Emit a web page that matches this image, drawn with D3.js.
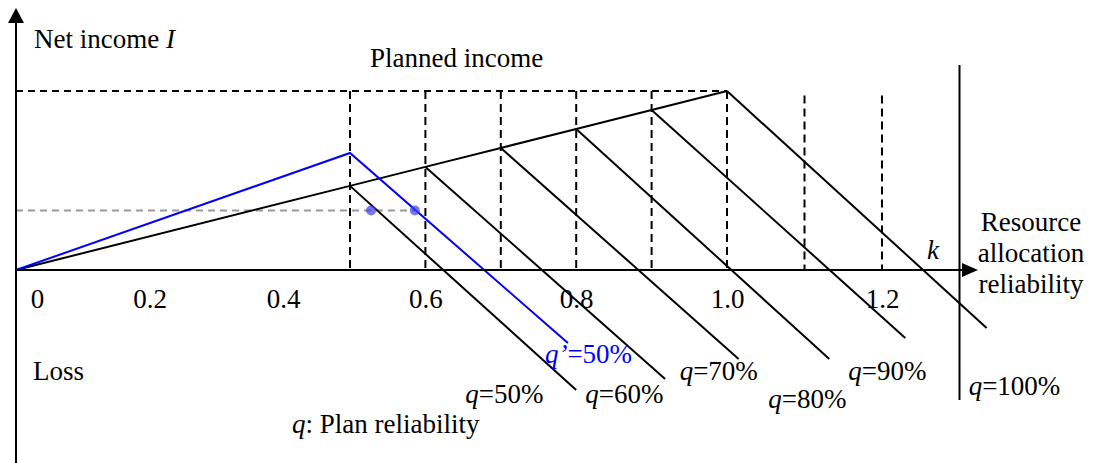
<!DOCTYPE html>
<html>
<head>
<meta charset="utf-8">
<script src="https://cdn.jsdelivr.net/npm/d3@7"></script>
<style>
  html, body { margin: 0; padding: 0; background: #fff; }
  svg { display: block; }
  text { font-family: "Liberation Serif", "Times New Roman", serif; font-size: 27px; fill: #000; }
</style>
</head>
<body>
<svg width="1097" height="463"></svg>
<script>
// k = resource allocation reliability, I = net income (planned income = 1)
const tickValues = [0, 0.2, 0.4, 0.6, 0.8, 1.0, 1.2];
const tickLabels = ["0", "0.2", "0.4", "0.6", "0.8", "1.0", "1.2"];

const guideK = [0.5, 0.6, 0.7, 0.8, 0.9, 1.0, 1.1, 1.2];
const guideTopI = [1, 1, 1, 1, 1, 1, 0.975, 0.975];

// rising income line
const incomeK = [0, 0.5, 0.6, 0.7, 0.8, 0.9, 1.0];
const incomeI = [0, 0.47, 0.576, 0.682, 0.788, 0.894, 1.0];

// falling lines, one per plan reliability q
const qNames = ["50%", "60%", "70%", "80%", "90%", "100%"];
const qStartK = [0.5, 0.6, 0.7, 0.8, 0.9, 1.0];
const qStartI = [0.47, 0.576, 0.682, 0.788, 0.894, 1.0];
const qEndK = [0.80, 0.918, 1.015, 1.132, 1.230, 1.335];
const qEndI = [-0.670, -0.609, -0.497, -0.497, -0.380, -0.324];

// blue q' = 50% line
const blueK = [0, 0.5, 0.789];
const blueI = [0, 0.654, -0.408];

// grey reference level and its two points
const refI = 0.333;
const refDotK = [0.528, 0.586];

const plannedI = 1.0;
const wallK = 1.30, wallTopI = 1.145, wallBottomI = -0.726;

const svg = d3.select("svg");

const x = d3.scaleLinear().domain([0, 0.5, 1.0, 1.2]).range([16, 350, 727, 882]);
const y = d3.scaleLinear().domain([0, 1]).range([270, 91]);

// label offsets (px) from each line's end point
const qLabelDx = [-111, -80, -59, -61, -57, -18];
const qLabelDy = [13, 24, 21, 49, 42, 67];

const line = d3.line().x(d => x(d[0])).y(d => y(d[1]));

// planned income dashed level
svg.append("path")
   .datum([[0, plannedI], [1.0, plannedI]])
   .attr("d", line)
   .attr("fill", "none")
   .attr("stroke", "#000")
   .attr("stroke-width", 2)
   .attr("stroke-dasharray", "7,5");

// vertical dashed guides
svg.selectAll(".guide")
   .data(guideK)
   .enter()
   .append("line")
   .attr("class", "guide")
   .attr("x1", d => x(d))
   .attr("x2", d => x(d))
   .attr("y1", (d, i) => y(guideTopI[i]))
   .attr("y2", y(0))
   .attr("stroke", "#000")
   .attr("stroke-width", 2)
   .attr("stroke-dasharray", "8,5");

// grey reference line
svg.append("path")
   .datum([[0, refI], [refDotK[1], refI]])
   .attr("d", line)
   .attr("fill", "none")
   .attr("stroke", "#999")
   .attr("stroke-width", 2)
   .attr("stroke-dasharray", "7,5");

// rising income line
svg.append("path")
   .datum(incomeK.map((k, i) => [k, incomeI[i]]))
   .attr("d", line)
   .attr("fill", "none")
   .attr("stroke", "#000")
   .attr("stroke-width", 2);

// falling q lines
qNames.forEach((name, i) => {
  svg.append("path")
     .datum([[qStartK[i], qStartI[i]], [qEndK[i], qEndI[i]]])
     .attr("d", line)
     .attr("fill", "none")
     .attr("stroke", "#000")
     .attr("stroke-width", 2);

  const t = svg.append("text")
     .attr("x", x(qEndK[i]) + qLabelDx[i])
     .attr("y", y(qEndI[i]) + qLabelDy[i]);
  t.append("tspan").style("font-style", "italic").text("q");
  t.append("tspan").text("=" + name);
});

// blue line
svg.append("path")
   .datum(blueK.map((k, i) => [k, blueI[i]]))
   .attr("d", line)
   .attr("fill", "none")
   .attr("stroke", "#0000ff")
   .attr("stroke-width", 2);

const bt = svg.append("text")
   .attr("x", x(blueK[2]) - 23)
   .attr("y", y(blueI[2]) + 20)
   .style("fill", "#0000ff");
bt.append("tspan").style("font-style", "italic").style("fill", "#0000ff").text("q’");
bt.append("tspan").style("fill", "#0000ff").text("=50%");

// dots
svg.selectAll(".dot")
   .data(refDotK)
   .enter()
   .append("circle")
   .attr("class", "dot")
   .attr("cx", d => x(d))
   .attr("cy", y(refI))
   .attr("r", 5)
   .attr("fill", "#3c3cec")
   .attr("fill-opacity", 0.7);

// right-hand vertical line
svg.append("line")
   .attr("x1", x(wallK)).attr("x2", x(wallK))
   .attr("y1", y(wallTopI)).attr("y2", y(wallBottomI))
   .attr("stroke", "#000")
   .attr("stroke-width", 2);

// axes
const x0 = x(0), y0 = y(0);
const xTip = 978, yTip = 8;

svg.append("line")
   .attr("x1", x0).attr("x2", xTip - 12)
   .attr("y1", y0).attr("y2", y0)
   .attr("stroke", "#000").attr("stroke-width", 2);
svg.append("path")
   .attr("d", `M${xTip},${y0} L${xTip - 16},${y0 - 7} L${xTip - 16},${y0 + 7} Z`)
   .attr("fill", "#000");

svg.append("line")
   .attr("x1", x0).attr("x2", x0)
   .attr("y1", 470).attr("y2", yTip + 12)
   .attr("stroke", "#000").attr("stroke-width", 2);
svg.append("path")
   .attr("d", `M${x0},${yTip} L${x0 - 8},${yTip + 15} L${x0 + 8},${yTip + 15} Z`)
   .attr("fill", "#000");

const xAxis = svg.append("g")
   .attr("transform", `translate(0, ${y0})`)
   .call(d3.axisBottom(x)
           .tickValues(tickValues)
           .tickFormat((d, i) => tickLabels[i])
           .tickSize(0)
           .tickPadding(19));
xAxis.select(".domain").remove();
xAxis.attr("font-family", null).attr("font-size", null);
xAxis.selectAll("text")
     .style("font-size", "27px")
     .attr("x", d => d === 0 ? 21 : 0);

// labels
const yl = svg.append("text").attr("x", 34).attr("y", 48);
yl.append("tspan").text("Net income ");
yl.append("tspan").style("font-style", "italic").text("I");

svg.append("text").attr("x", 370).attr("y", 67).text("Planned income");

svg.append("text").attr("x", 927).attr("y", 259).style("font-style", "italic").text("k");

svg.selectAll(".axisname")
   .data(["Resource", "allocation", "reliability"])
   .enter()
   .append("text")
   .attr("class", "axisname")
   .attr("x", 1031)
   .attr("y", (d, i) => 231 + i * 31)
   .attr("text-anchor", "middle")
   .text(d => d);

svg.append("text").attr("x", 33).attr("y", 380).text("Loss");

const ql = svg.append("text").attr("x", 292).attr("y", 433);
ql.append("tspan").style("font-style", "italic").text("q");
ql.append("tspan").text(": Plan reliability");
</script>
</body>
</html>
